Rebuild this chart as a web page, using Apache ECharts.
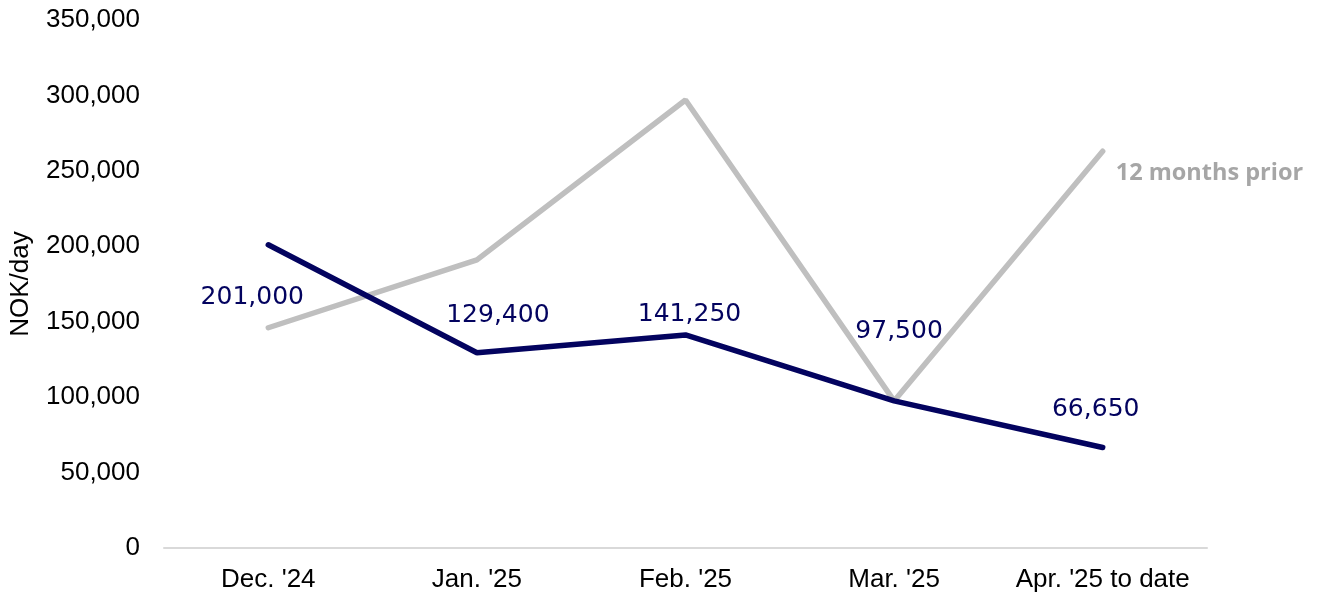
<!DOCTYPE html>
<html>
<head>
<meta charset="utf-8">
<script src="https://cdn.jsdelivr.net/npm/echarts@6/dist/echarts.min.js"></script>
<style>
  html, body { margin: 0; padding: 0; background: #fff; }
  #chart { width: 1319px; height: 597px; }
</style>
</head>
<body>
<div id="chart"></div>
<script>
// chart data
const months = ["Dec. '24", "Jan. '25", "Feb. '25", "Mar. '25", "Apr. '25 to date"]
const rates = [201000, 129400, 141250, 97500, 66650]
const priorRates = [146000, 191000, 297000, 97500, 263000]
const yTicks = [0, 50000, 100000, 150000, 200000, 250000, 300000, 350000]

// where each value label sits relative to its point
const labelOffsets = [[-16, 53], [21, -37], [4, -20], [5, -69], [-7, -38]]

const navy = '#03035f'
const grey = '#bfbfbf'
const fmt = v => v.toLocaleString('en-US')

function renderChart() {
	const chart = echarts.init(document.querySelector('#chart'))
	chart.setOption({
		animation: false,
		grid: { left: 161, right: 112, top: 20, bottom: 49 },
		xAxis: {
			type: 'category',
			data: months,
			boundaryGap: true,
			axisLine: { lineStyle: { color: '#d9d9d9', width: 2 } },
			axisTick: { show: false },
			axisLabel: {
				interval: 0,
				color: '#000',
				fontFamily: 'Liberation Sans',
				fontSize: 26,
				margin: 19
			}
		},
		yAxis: {
			type: 'value',
			min: yTicks[0],
			max: yTicks[yTicks.length - 1],
			interval: 50000,
			name: 'NOK/day',
			nameLocation: 'middle',
			nameGap: 130,
			nameTextStyle: {
				color: '#000',
				fontFamily: 'Liberation Sans',
				fontSize: 26
			},
			axisLine: { show: false },
			axisTick: { show: false },
			splitLine: { show: false },
			axisLabel: {
				color: '#000',
				fontFamily: 'Liberation Sans',
				fontSize: 26,
				margin: 24,
				formatter: v => fmt(v)
			}
		},
		series: [
			{
				name: '12 months prior',
				type: 'line',
				data: priorRates.map((v, i) => i === priorRates.length - 1 ? {
					value: v,
					label: {
						show: true,
						position: 'inside',
						align: 'left',
						verticalAlign: 'middle',
						offset: [13, 22],
						formatter: '12 months prior',
						color: '#a6a6a6',
						fontWeight: 'bold',
						fontFamily: 'Open Sans',
						fontSize: 23.5
					}
				} : v),
				symbol: 'circle',
				symbolSize: 1,
				showSymbol: true,
				lineStyle: { color: grey, width: 5.5, cap: 'round' },
				itemStyle: { color: 'rgba(0,0,0,0)' },
				z: 2
			},
			{
				name: 'Rate',
				type: 'line',
				data: rates.map((v, i) => ({
					value: v,
					label: {
						show: true,
						position: 'inside',
						align: 'center',
						verticalAlign: 'middle',
						offset: labelOffsets[i]
					}
				})),
				symbol: 'circle',
				symbolSize: 1,
				showSymbol: true,
				label: {
					show: true,
					color: navy,
					fontFamily: 'DejaVu Sans',
					fontSize: 25,
					formatter: p => fmt(p.value)
				},
				lineStyle: { color: navy, width: 5.5, cap: 'round' },
				itemStyle: { color: 'rgba(0,0,0,0)' },
				z: 3
			}
		]
	})
}

renderChart()
</script>
</body>
</html>
